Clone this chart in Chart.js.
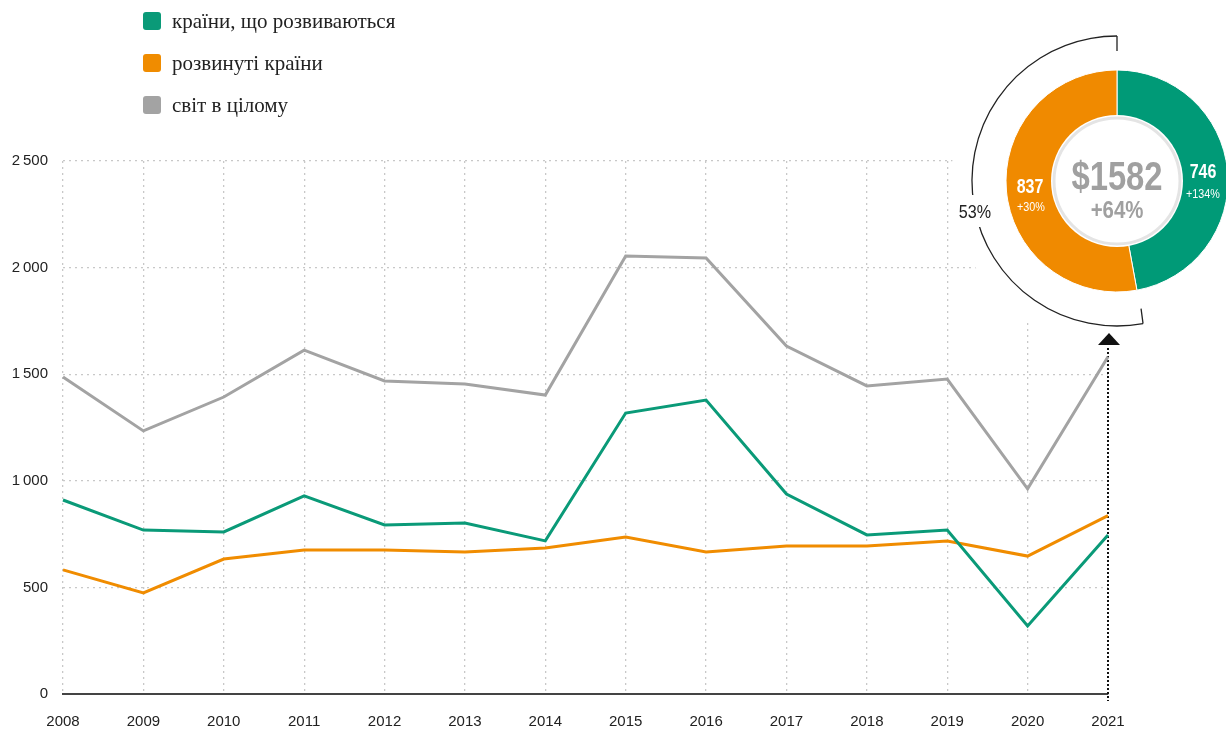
<!DOCTYPE html>
<html>
<head>
<meta charset="utf-8">
<script src="https://cdn.jsdelivr.net/npm/chart.js@4/dist/chart.umd.min.js"></script>
<style>
  body { margin: 0; background: #fff; overflow: hidden; }
  #wrap { position: relative; width: 1226px; height: 731px; }
  #mainChart { position: absolute; left: 0; top: 0; }
  #donutChart { position: absolute; }
  .legend { position: absolute; left: 143px; font-family: 'Liberation Serif', serif; font-size: 21px; color: #222; }
  .legend div { height: 42px; display: flex; align-items: center; }
  .legend span.sw { display: inline-block; width: 18px; height: 18px; border-radius: 3px; margin-right: 11px; }
</style>
</head>
<body>
<div id="wrap">
  <canvas id="mainChart" width="1226" height="731"></canvas>
  <canvas id="donutChart" width="240" height="240"></canvas>
  <div class="legend" id="legend" style="top:0px"></div>
</div>
<script>
const years = ['2008', '2009', '2010', '2011', '2012', '2013', '2014', '2015', '2016', '2017', '2018', '2019', '2020', '2021'];
const developing = [910, 769, 760, 929, 793, 802, 718, 1318, 1379, 938, 746, 769, 319, 746];
const developed = [582, 474, 633, 675, 675, 666, 685, 736, 666, 694, 694, 718, 647, 837];
const world = [1487, 1234, 1393, 1613, 1468, 1454, 1402, 2054, 2045, 1632, 1445, 1477, 962, 1582];
const seriesNames = ['країни, що розвиваються', 'розвинуті країни', 'світ в цілому'];
const seriesColors = ['#0a9a78', '#f08c00', '#a3a3a3'];

// 2021 breakdown shown in the donut
const donutValues = [746, 837];
const donutGrowth = ['+134%', '+30%'];
const worldGrowth = '+64%';

const donutCx = 1117, donutCy = 181;
const numFont = "'Liberation Sans', Arial, sans-serif";

// legend
const legend = document.getElementById('legend');
for (var i = 0; i < seriesNames.length; i++) {
    const row = document.createElement('div');
    row.innerHTML = '<span class="sw" style="background:' + seriesColors[i] + '"></span>' + seriesNames[i];
    legend.appendChild(row);
}

// narrow text, the original uses a condensed face
function narrowText(ctx, text, x, y, font, sx) {
    ctx.save();
    ctx.font = font;
    ctx.translate(x, y);
    ctx.scale(sx, 1);
    ctx.fillText(text, 0, 0);
    ctx.restore();
}

const decorPlugin = {
    id: 'decor',
    beforeDatasetsDraw(chart) {
        const ctx = chart.ctx;
        const x = chart.scales.x.getPixelForValue(years.length - 1);
        ctx.save();
        // white disc behind the donut hides the grid
        ctx.fillStyle = '#fff';
        ctx.beginPath();
        ctx.arc(donutCx, donutCy, 166, 0, Math.PI * 2);
        ctx.fill();

        // dotted marker at the last year
        ctx.strokeStyle = '#111';
        ctx.lineWidth = 2;
        ctx.setLineDash([2, 2]);
        ctx.beginPath();
        ctx.moveTo(x, 348);
        ctx.lineTo(x, 701);
        ctx.stroke();
        ctx.setLineDash([]);

        ctx.fillStyle = '#111';
        ctx.beginPath();
        ctx.moveTo(x + 1, 333);
        ctx.lineTo(x + 12, 345);
        ctx.lineTo(x - 10, 345);
        ctx.closePath();
        ctx.fill();

        // bracket round the developed share
        const total = donutValues[0] + donutValues[1];
        const a0 = -Math.PI / 2 + donutValues[0] / total * Math.PI * 2;
        const a1 = Math.PI * 1.5;
        const r = 145;
        ctx.strokeStyle = '#222';
        ctx.lineWidth = 1.3;
        ctx.beginPath();
        ctx.arc(donutCx, donutCy, r, a0, a1);
        ctx.stroke();
        ctx.beginPath();
        ctx.moveTo(donutCx, donutCy - r);
        ctx.lineTo(donutCx, donutCy - r + 15);
        ctx.moveTo(donutCx + r * Math.cos(a0), donutCy + r * Math.sin(a0));
        ctx.lineTo(donutCx + r * Math.cos(a0) - 2, donutCy + r * Math.sin(a0) - 15);
        ctx.stroke();
        ctx.fillStyle = '#fff';
        ctx.fillRect(955, 195, 40, 32);
        ctx.fillStyle = '#222';
        ctx.textAlign = 'center';
        ctx.textBaseline = 'middle';
        narrowText(ctx, Math.round(donutValues[1] / total * 100) + '%', 975, 213, '19px ' + numFont, 0.85);
        ctx.restore();
    }
};

new Chart(document.getElementById('mainChart').getContext('2d'), {
    type: 'line',
    data: {
        labels: years,
        datasets: [{
            label: seriesNames[2],
            data: world,
            borderColor: seriesColors[2],
            borderWidth: 3,
            pointRadius: 0,
            tension: 0
        }, {
            label: seriesNames[0],
            data: developing,
            borderColor: seriesColors[0],
            borderWidth: 3,
            pointRadius: 0,
            tension: 0
        }, {
            label: seriesNames[1],
            data: developed,
            borderColor: seriesColors[1],
            borderWidth: 3,
            pointRadius: 0,
            tension: 0
        }]
    },
    options: {
        responsive: false,
        animation: false,
        devicePixelRatio: 1,
        layout: { padding: { left: 0, right: 118, top: 161, bottom: 0 } },
        plugins: { legend: { display: false }, tooltip: { enabled: false } },
        scales: {
            x: {
                offset: false,
                grid: {
                    drawTicks: false,
                    color: function (c) { return c.index === years.length - 1 ? 'rgba(0,0,0,0)' : '#c8c8c8'; },
                    lineWidth: 1.3
                },
                border: { display: true, color: '#444', width: 2, dash: [2, 4] },
                ticks: { color: '#222', padding: 19, maxRotation: 0, font: { family: numFont, size: 15 } },
                afterFit: function (s) { s.height = 37; }
            },
            y: {
                min: 0,
                max: 2500,
                grid: { drawTicks: false, color: '#c8c8c8', lineWidth: 1.3 },
                border: { display: false, dash: [2, 4] },
                ticks: {
                    stepSize: 500,
                    color: '#222',
                    padding: 15,
                    font: { family: numFont, size: 15 },
                    callback: function (v) {
                        if (v >= 1000) return Math.floor(v / 1000) + '\u2009' + String(v % 1000).padStart(3, '0');
                        return String(v);
                    }
                },
                afterFit: function (s) { s.width = 63; }
            }
        }
    },
    plugins: [decorPlugin]
});

// donut
const donutCanvas = document.getElementById('donutChart');
donutCanvas.style.left = (donutCx - 120) + 'px';
donutCanvas.style.top = (donutCy - 120) + 'px';

const donutText = {
    id: 'donutText',
    afterDraw(chart) {
        const ctx = chart.ctx;
        const cx = chart.chartArea.left + chart.chartArea.width / 2;
        const cy = chart.chartArea.top + chart.chartArea.height / 2;
        ctx.save();
        ctx.fillStyle = '#fff';
        ctx.beginPath();
        ctx.arc(cx, cy, 66, 0, Math.PI * 2);
        ctx.fill();
        ctx.strokeStyle = '#e4e4e4';
        ctx.lineWidth = 3;
        ctx.beginPath();
        ctx.arc(cx, cy, 63, 0, Math.PI * 2);
        ctx.stroke();

        ctx.textAlign = 'center';
        ctx.textBaseline = 'middle';
        ctx.fillStyle = '#a0a0a0';
        narrowText(ctx, '$' + world[world.length - 1], cx, cy - 2, 'bold 40px ' + numFont, 0.82);
        narrowText(ctx, worldGrowth, cx, cy + 30, 'bold 24px ' + numFont, 0.85);

        ctx.fillStyle = '#fff';
        narrowText(ctx, String(donutValues[0]), cx + 86, cy - 9, 'bold 20px ' + numFont, 0.8);
        narrowText(ctx, String(donutValues[1]), cx - 87, cy + 6, 'bold 20px ' + numFont, 0.8);
        narrowText(ctx, donutGrowth[0], cx + 86, cy + 14, '12px ' + numFont, 0.9);
        narrowText(ctx, donutGrowth[1], cx - 86, cy + 27, '12px ' + numFont, 0.9);
        ctx.restore();
    }
};

new Chart(donutCanvas.getContext('2d'), {
    type: 'doughnut',
    data: {
        labels: [seriesNames[0], seriesNames[1]],
        datasets: [{
            data: donutValues,
            backgroundColor: ['#009a77', '#f08a00'],
            borderColor: '#fff',
            borderWidth: 1
        }]
    },
    options: {
        responsive: false,
        animation: false,
        devicePixelRatio: 1,
        radius: 111,
        cutout: 65,
        plugins: { legend: { display: false }, tooltip: { enabled: false } }
    },
    plugins: [donutText]
});
</script>
</body>
</html>
